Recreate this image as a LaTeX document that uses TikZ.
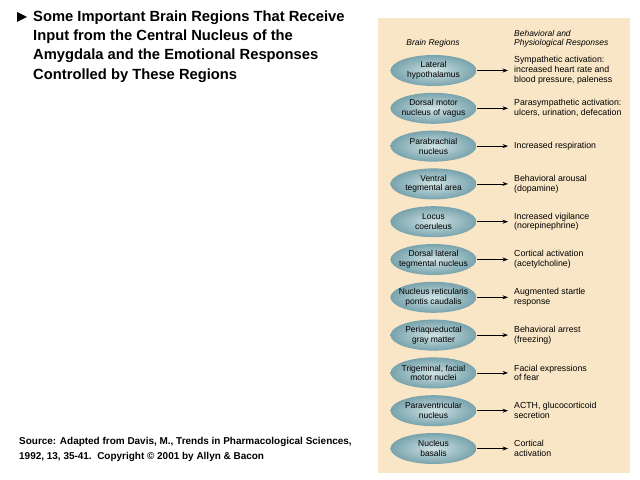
\documentclass[tikz,border=0pt]{standalone}
\usepackage{fontspec}
\setmainfont{Liberation Sans}
\usetikzlibrary{arrows.meta,shapes.geometric}
\definecolor{panel}{HTML}{F9E6C6}
\definecolor{elin}{HTML}{CFE2E4}
\definecolor{elout}{HTML}{78A3AD}
\begin{document}
\begin{tikzpicture}[x=1bp,y=-1bp,
  region/.style={ellipse, minimum width=86bp, minimum height=31bp,
    inner xsep=-24bp, inner ysep=-6bp, shade, inner color=elin, outer color=elout,
    align=center, font=\fontsize{8.5}{9.8}\selectfont},
  resp/.style={anchor=west, align=left, inner sep=0pt, font=\fontsize{8.8}{9.9}\selectfont},
  link/.style={-{Stealth[length=5.5bp,width=4bp]}, line width=0.7bp},
  hdr/.style={font=\fontsize{8.5}{9.4}\selectfont\itshape, inner sep=0pt},
  title/.style={anchor=north west, align=left, inner sep=0pt, font=\fontsize{14.8}{19.3}\selectfont\bfseries},
  src/.style={anchor=north west, align=left, inner sep=0pt, font=\fontsize{10}{15}\selectfont\bfseries}]
\useasboundingbox (0,0) rectangle (640,480);
\fill[white] (0,0) rectangle (640,480);
\fill[panel] (378,18) rectangle (630,473);
% title
\fill (17,12) -- (27,17) -- (17,22) -- cycle;
\node[title] (title) at (33,10.5) {Some Important Brain Regions That Receive\\Input from the Central Nucleus of the\\Amygdala and the Emotional Responses\\Controlled by These Regions};
\node[src] (src) at (19,437.5) {Source: Adapted from Davis, M., Trends in Pharmacological Sciences,\\1992, 13, 35-41.\ \ Copyright \textcopyright\ 2001 by Allyn \& Bacon};
% headers
\node[hdr] (h1) at (433,43.5) {Brain Regions};
\node[hdr, anchor=west, align=left] (h2) at (514,38.5) {Behavioral and\\Physiological Responses};
% rows
\foreach \i/\reg/\res in {
  0/{Lateral\\hypothalamus}/{Sympathetic activation:\\increased heart rate and\\blood pressure, paleness},
  1/{Dorsal motor\\nucleus of vagus}/{Parasympathetic activation:\\ulcers, urination, defecation},
  2/{Parabrachial\\nucleus}/{Increased respiration},
  3/{Ventral\\tegmental area}/{Behavioral arousal\\(dopamine)},
  4/{Locus\\coeruleus}/{Increased vigilance\\(norepinephrine)},
  5/{Dorsal lateral\\tegmental nucleus}/{Cortical activation\\(acetylcholine)},
  6/{Nucleus reticularis\\pontis caudalis}/{Augmented startle\\response},
  7/{Periaqueductal\\gray matter}/{Behavioral arrest\\(freezing)},
  8/{Trigeminal, facial\\motor nuclei}/{Facial expressions\\of fear},
  9/{Paraventricular\\nucleus}/{ACTH, glucocorticoid\\secretion},
  10/{Nucleus\\basalis}/{Cortical\\activation}}
{
  \node[region] (r\i) at (433.5,70.5+37.8*\i) {\reg};
  \node[resp] (t\i) at (514,70.5+37.8*\i) {\res};
  \draw[link] (r\i) -- (t\i.west -| 508,0);
}
\end{tikzpicture}
\end{document}
